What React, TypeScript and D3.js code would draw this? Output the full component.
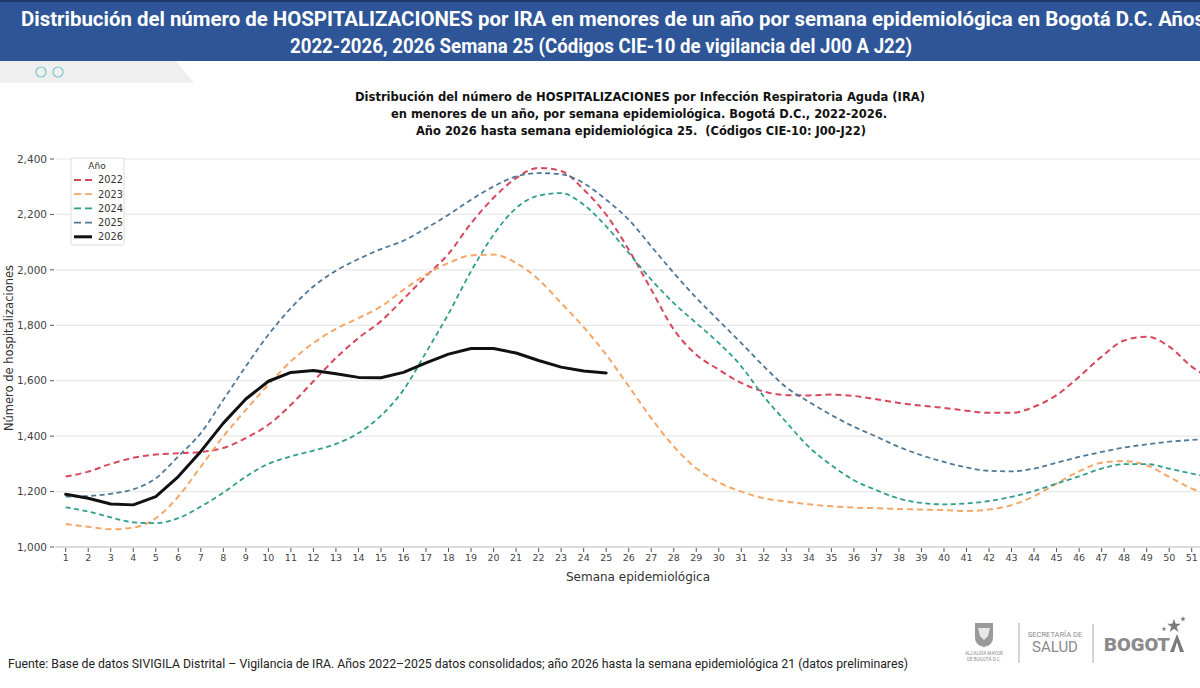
import React from "react";
import * as d3 from "d3";

// Epidemiological weeks (data runs to week 52; axis labels to week 51)
const weeks: number[] = Array.from({ length: 52 }, (_, i) => i + 1);
const xTicks: number[] = Array.from({ length: 51 }, (_, i) => i + 1);

// Weekly hospitalizations (children under 1 year) by year
const y2022: number[] = [1254, 1272, 1300, 1322, 1334, 1338, 1343, 1357, 1393, 1441, 1513, 1598, 1682, 1754, 1815, 1895, 1977, 2058, 2168, 2260, 2331, 2368, 2357, 2290, 2199, 2073, 1929, 1785, 1694, 1640, 1592, 1561, 1548, 1547, 1550, 1545, 1533, 1520, 1510, 1502, 1492, 1484, 1484, 1506, 1548, 1614, 1687, 1745, 1759, 1723, 1651, 1600];
const y2023: number[] = [1083, 1073, 1064, 1070, 1104, 1182, 1290, 1399, 1495, 1586, 1670, 1736, 1787, 1826, 1868, 1928, 1983, 2025, 2052, 2055, 2025, 1965, 1880, 1793, 1694, 1580, 1465, 1363, 1284, 1233, 1200, 1176, 1164, 1154, 1147, 1142, 1140, 1137, 1135, 1133, 1130, 1135, 1151, 1183, 1229, 1273, 1304, 1310, 1295, 1253, 1211, 1185];
const y2024: number[] = [1143, 1128, 1107, 1089, 1086, 1104, 1146, 1196, 1254, 1300, 1327, 1348, 1372, 1411, 1474, 1567, 1702, 1842, 1995, 2127, 2223, 2268, 2277, 2235, 2157, 2061, 1965, 1880, 1808, 1736, 1652, 1543, 1450, 1361, 1295, 1241, 1205, 1175, 1159, 1154, 1157, 1166, 1181, 1202, 1229, 1255, 1283, 1299, 1299, 1283, 1265, 1250];
const y2025: number[] = [1182, 1184, 1192, 1208, 1248, 1327, 1411, 1531, 1652, 1766, 1862, 1940, 1997, 2039, 2075, 2105, 2150, 2199, 2253, 2301, 2337, 2349, 2345, 2313, 2253, 2181, 2085, 1989, 1899, 1817, 1736, 1652, 1576, 1524, 1476, 1434, 1398, 1361, 1331, 1307, 1287, 1275, 1273, 1283, 1304, 1325, 1343, 1359, 1370, 1380, 1386, 1390];
const y2026: number[] = [1190, 1176, 1155, 1152, 1182, 1254, 1345, 1447, 1534, 1598, 1630, 1637, 1625, 1612, 1611, 1630, 1664, 1696, 1716, 1716, 1700, 1673, 1649, 1635, 1628];

const yTicks: number[] = [1000, 1200, 1400, 1600, 1800, 2000, 2200, 2400];
const legendYears: string[] = ["2022", "2023", "2024", "2025", "2026"];

type Series = { year: string; values: number[]; color: string; width: number; dash: string | null };

const series: Series[] = [
  { year: "2022", values: y2022, color: "#d9475c", width: 2, dash: "6,4" },
  { year: "2023", values: y2023, color: "#f3a768", width: 2, dash: "6,4" },
  { year: "2024", values: y2024, color: "#2f9e8c", width: 1.8, dash: "5,3.5" },
  { year: "2025", values: y2025, color: "#4f7896", width: 1.8, dash: "5,3.5" },
  { year: "2026", values: y2026, color: "#111111", width: 3, dash: null },
];

const W = 1200;
const H = 688;

export default function App() {
  const x = d3.scaleLinear().domain([1, 51]).range([65.7, 1191.7]);
  const y = d3.scaleLinear().domain([1000, 2400]).range([547, 159]);
  const fmt = d3.format(",");

  const makePath = (s: Series) => {
    const gen = d3
      .line<number>()
      .x((_, i) => x(weeks[i]))
      .y((v) => y(v))
      .curve(s.dash ? d3.curveMonotoneX : d3.curveLinear);
    return gen(s.values) || "";
  };

  const ff = "'DejaVu Sans', sans-serif";

  return (
    <svg
      width={W}
      height={H}
      viewBox={`0 0 ${W} ${H}`}
      style={{ position: "absolute", left: 0, top: 0, display: "block", background: "#fff" }}
    >
      <defs>
        <clipPath id="plotClip">
          <rect x={55} y={140} width={W - 55} height={420} />
        </clipPath>
      </defs>

      {/* header band */}
      <rect x={0} y={0} width={W} height={61} fill="#2e5597" />
      <rect x={0} y={0} width={W} height={2} fill="#1d3a6b" />
      <text
        x={21}
        y={26}
        fill="#fff"
        fontFamily="Roboto, sans-serif"
        fontWeight={700}
        fontSize={19.5}
        textLength={1184}
        lengthAdjust="spacingAndGlyphs"
      >
        Distribución del número de HOSPITALIZACIONES por IRA en menores de un año por semana epidemiológica en Bogotá D.C. Años
      </text>
      <text
        x={290}
        y={53}
        fill="#fff"
        fontFamily="Roboto, sans-serif"
        fontWeight={700}
        fontSize={19.5}
        textLength={622}
        lengthAdjust="spacingAndGlyphs"
      >
        2022-2026, 2026 Semana 25 (Códigos CIE-10 de vigilancia del J00 A J22)
      </text>

      {/* sub band with tab */}
      <path d="M0,61 L176,61 L194,83 L0,83 Z" fill="#efefef" />
      <circle cx={41} cy={72} r={5} fill="none" stroke="#7cc4cc" strokeWidth={1.2} />
      <circle cx={58} cy={72} r={5} fill="none" stroke="#7cc4cc" strokeWidth={1.2} />

      {/* chart title */}
      <g fontFamily={ff} fontWeight={700} fontSize={11.5} fill="#111" textAnchor="start">
        <text x={355} y={101} textLength={570} lengthAdjust="spacingAndGlyphs">
          Distribución del número de HOSPITALIZACIONES por Infección Respiratoria Aguda (IRA)
        </text>
        <text x={391} y={118} textLength={496} lengthAdjust="spacingAndGlyphs">
          en menores de un año, por semana epidemiológica. Bogotá D.C., 2022-2026.
        </text>
        <text x={416} y={135} textLength={450} lengthAdjust="spacingAndGlyphs" xmlSpace="preserve">
          Año 2026 hasta semana epidemiológica 25.  (Códigos CIE-10: J00-J22)
        </text>
      </g>

      {/* grid + y axis */}
      <g fontFamily={ff} fontSize={10.5} fill="#444">
        {yTicks.map((t) => (
          <g key={t}>
            {t > 1000 && <line x1={55} x2={W} y1={y(t)} y2={y(t)} stroke="#e8e8e8" strokeWidth={1.2} />}
            <line x1={50} x2={54} y1={y(t)} y2={y(t)} stroke="#555" strokeWidth={1} />
            <text x={47} y={y(t)} dy="0.35em" textAnchor="end">
              {fmt(t)}
            </text>
          </g>
        ))}
      </g>

      {/* x axis */}
      <line x1={55} x2={W} y1={y(1000)} y2={y(1000)} stroke="#cfcfcf" strokeWidth={1.5} />
      <g fontFamily={ff} fontSize={9.5} fill="#444">
        {xTicks.map((w) => (
          <g key={w}>
            <line x1={x(w)} x2={x(w)} y1={548} y2={552} stroke="#555" strokeWidth={1} />
            <text x={x(w)} y={561} textAnchor="middle">
              {w}
            </text>
          </g>
        ))}
      </g>

      {/* axis labels */}
      <text x={638} y={581} textAnchor="middle" fontFamily={ff} fontSize={12} fill="#333">
        Semana epidemiológica
      </text>
      <text
        transform="translate(13,348) rotate(-90)"
        textAnchor="middle"
        fontFamily={ff}
        fontSize={11.5}
        fill="#333"
      >
        Número de hospitalizaciones
      </text>

      {/* series */}
      <g clipPath="url(#plotClip)" fill="none">
        {series.map((s) => (
          <path
            key={s.year}
            d={makePath(s)}
            stroke={s.color}
            strokeWidth={s.width}
            strokeDasharray={s.dash || undefined}
            strokeLinejoin="round"
            strokeLinecap={s.dash ? "butt" : "round"}
          />
        ))}
      </g>

      {/* legend */}
      <g fontFamily={ff} fontSize={9.8} fill="#333">
        <rect x={71} y={158} width={53} height={87} rx={2} fill="#fff" stroke="#dcdcdc" strokeWidth={1} />
        <text x={97} y={169} textAnchor="middle" fontSize={9}>
          Año
        </text>
        {legendYears.map((yr, i) => {
          const s = series.find((d) => d.year === yr)!;
          const cy = 180 + i * 14.2;
          return (
            <g key={yr}>
              <line
                x1={74}
                x2={92}
                y1={cy}
                y2={cy}
                stroke={s.color}
                strokeWidth={s.dash ? 1.8 : 3}
                strokeDasharray={s.dash ? "7,4" : undefined}
              />
              <text x={98} y={cy} dy="0.35em">
                {yr}
              </text>
            </g>
          );
        })}
      </g>

      {/* logos */}
      <g fill="#8a8a8a" fontFamily="Roboto, sans-serif">
        <path d="M975,623 L993,623 L993,638 Q993,645 984,647 Q975,645 975,638 Z" fill="#9a9a9a" />
        <path d="M978,628 L990,628 L988,636 L984,640 L980,636 Z" fill="#e8e8e8" />
        <text x={984} y={655} textAnchor="middle" fontSize={4.6}>ALCALDÍA MAYOR</text>
        <text x={984} y={661} textAnchor="middle" fontSize={4.6}>DE BOGOTÁ D.C.</text>
        <line x1={1019} x2={1019} y1={623} y2={663} stroke="#aaa" strokeWidth={1} />
        <text x={1055} y={637} textAnchor="middle" fontSize={7.5}>SECRETARÍA DE</text>
        <text x={1055} y={652} textAnchor="middle" fontSize={15}>SALUD</text>
        <line x1={1093} x2={1093} y1={624} y2={663} stroke="#aaa" strokeWidth={1} />
        <text x={1104} y={651} fontSize={19} fontWeight={900} textLength={66} lengthAdjust="spacingAndGlyphs">BOGOT</text>
        <path d="M1170,652 L1177,634 L1184,652 L1180,652 L1177,642 L1174,652 Z" fill="#7a7a7a" />
        <path
          d={d3.symbol().type(d3.symbolStar).size(60)() || ""}
          transform="translate(1174,626)"
          fill="#7a7a7a"
        />
        <path d={d3.symbol().type(d3.symbolStar).size(10)() || ""} transform="translate(1183,619)" fill="#7a7a7a" />
        <path d={d3.symbol().type(d3.symbolStar).size(8)() || ""} transform="translate(1164,629)" fill="#7a7a7a" />
      </g>

      {/* source note */}
      <text
        x={8}
        y={668}
        fontFamily="'Liberation Sans Narrow', 'Roboto', sans-serif"
        fontSize={12.5}
        fill="#222"
        textLength={900}
        lengthAdjust="spacingAndGlyphs"
      >
        Fuente: Base de datos SIVIGILA Distrital – Vigilancia de IRA. Años 2022–2025 datos consolidados; año 2026 hasta la semana epidemiológica 21 (datos preliminares)
      </text>
    </svg>
  );
}
